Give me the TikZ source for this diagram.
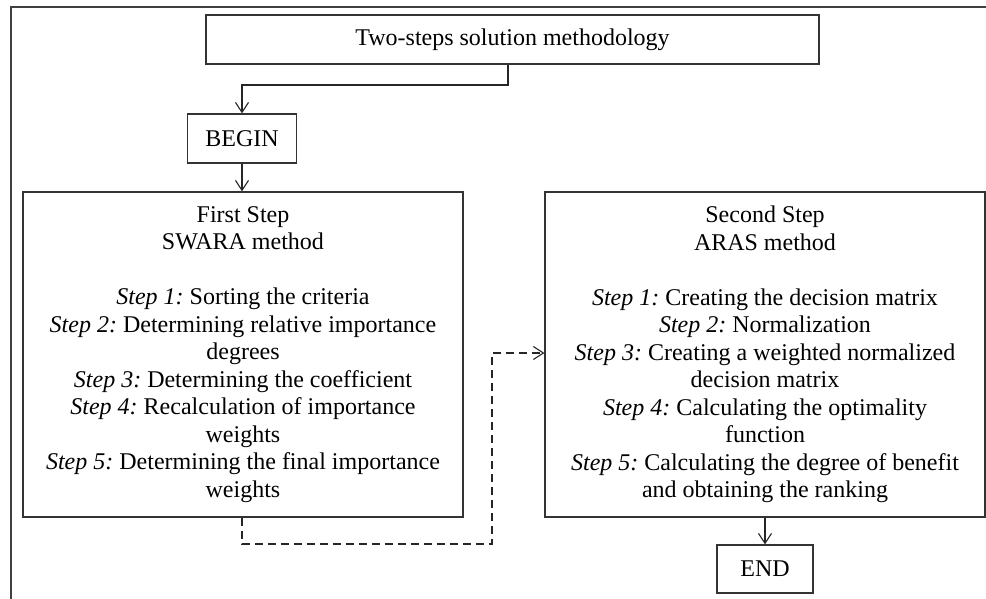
\documentclass[tikz,border=0pt]{standalone}
\usepackage{fontspec}
\setmainfont{Liberation Serif}
\usetikzlibrary{arrows.meta}
\begin{document}
\frenchspacing
\begin{tikzpicture}[x=1pt,y=-1pt,
  box/.style={draw=black!80, line width=1.2pt, align=center, inner sep=0pt,
    font=\fontsize{24}{27.5}\selectfont},
  arr/.style={draw=black!85, line width=1.1pt, -{Straight Barb[length=10pt,width=13pt]}},
  dasharr/.style={arr, dash pattern=on 8pt off 5pt},
]
\useasboundingbox (0,0) rectangle (986,599);
\draw[black!75, line width=1.2pt] (11,599) -- (11,7) -- (986,7);

\node[box, minimum width=613pt, minimum height=49pt] (top) at (512.5,39.5)
  {Two-steps solution methodology};
\node[box, minimum width=109pt, minimum height=49pt] (begin) at (242,138.5) {BEGIN};
\node[box, minimum width=440pt, minimum height=325pt] (left) at (243,354.5)
  {First Step\\
   SWARA method\\[27.5pt]
   \textit{Step 1:} Sorting the criteria\\
   \textit{Step 2:} Determining relative importance\\
   degrees\\
   \textit{Step 3:} Determining the coefficient\\
   \textit{Step 4:} Recalculation of importance\\
   weights\\
   \textit{Step 5:} Determining the final importance\\
   weights};
\node[box, minimum width=440pt, minimum height=325pt] (right) at (765,354.5)
  {Second Step\\
   ARAS method\\[27.5pt]
   \textit{Step 1:} Creating the decision matrix\\
   \textit{Step 2:} Normalization\\
   \textit{Step 3:} Creating a weighted normalized\\
   decision matrix\\
   \textit{Step 4:} Calculating the optimality\\
   function\\
   \textit{Step 5:} Calculating the degree of benefit\\
   and obtaining the ranking};
\node[box, minimum width=96pt, minimum height=48pt] (end) at (765,569) {END};

\coordinate (t1) at (508,85);
\coordinate (d1) at (242,544);
\coordinate (d2) at (492,544);
\coordinate (d3) at (492,353);

\draw[arr] (top.south -| t1) -- (t1) -| (begin.north);
\draw[arr] (begin.south) -- (begin.south |- left.north);
\draw[dasharr] (left.south -| d1) -- (d1) -- (d2) -- (d3) -- (d3 -| right.west);
\draw[arr] (right.south) -- (end.north);
\end{tikzpicture}
\end{document}
